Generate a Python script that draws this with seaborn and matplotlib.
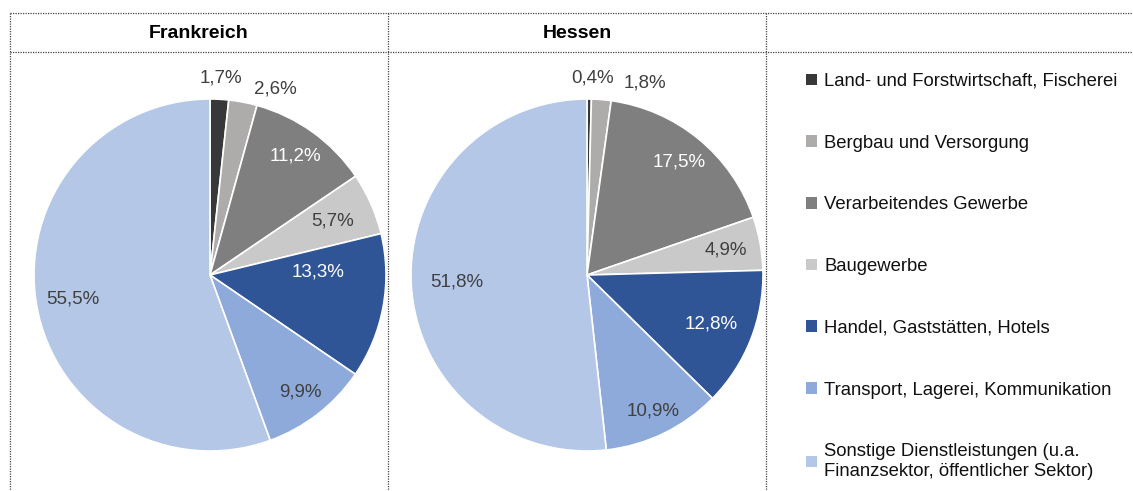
import matplotlib
matplotlib.use("Agg")
import matplotlib.pyplot as plt
import matplotlib.patches as mpatches
import matplotlib.lines as mlines
import numpy as np
import seaborn as sns

sns.set_theme(style="white")
plt.rcParams["font.family"] = ["Liberation Sans", "DejaVu Sans"]

# Daten
sectors = [
    "Land- und Forstwirtschaft, Fischerei",
    "Bergbau und Versorgung",
    "Verarbeitendes Gewerbe",
    "Baugewerbe",
    "Handel, Gaststätten, Hotels",
    "Transport, Lagerei, Kommunikation",
    "Sonstige Dienstleistungen (u.a.\nFinanzsektor, öffentlicher Sektor)",
]
frankreich = [1.7, 2.6, 11.2, 5.7, 13.3, 9.9, 55.5]
hessen = [0.4, 1.8, 17.5, 4.9, 12.8, 10.9, 51.8]
regions = ["Frankreich", "Hessen"]

colors = ["#383838", "#aeabab", "#7f7f7f", "#c9c9c9", "#2f5597", "#8eaadb", "#b4c7e7"]
label_colors = ["#404040", "#404040", "white", "#404040", "white", "#404040", "#404040"]

W, H = 1133, 491
fig = plt.figure(figsize=(W / 100, H / 100), dpi=100)

# Label-Platzierung: Abstand (Anteil am Radius) + Verschiebung in Pixeln
label_dist = {
    "Frankreich": [1.12, 1.125, 0.83, 0.76, 0.80, 0.84, 0.79],
    "Hessen": [1.12, 1.12, 0.83, 0.80, 0.76, 0.86, 0.74],
}
label_shift = {
    "Frankreich": [(0, 0), (28, 8), (0, 0), (0, 0), (-30, -28), (0, 0), (0, 0)],
    "Hessen": [(3, 0), (42, 4), (0, 0), (0, 0), (0, 0), (0, 0), (0, 0)],
}

centers = {"Frankreich": (210, 275), "Hessen": (587, 275)}
R = 176

for region, values in zip(regions, [frankreich, hessen]):
    cx, cy = centers[region]
    ax = fig.add_axes([(cx - R) / W, (H - cy - R) / H, 2 * R / W, 2 * R / H])
    wedges, _ = ax.pie(values, colors=colors, startangle=90, counterclock=False,
                       wedgeprops=dict(edgecolor="white", linewidth=1.2))
    ax.set_xlim(-1, 1)
    ax.set_ylim(-1, 1)
    ax.set_aspect("equal")
    ax.axis("off")
    for w, v, d, s, c in zip(wedges, values, label_dist[region], label_shift[region], label_colors):
        ang = np.deg2rad((w.theta1 + w.theta2) / 2)
        x = d * np.cos(ang) + s[0] / R
        y = d * np.sin(ang) - s[1] / R
        ax.text(x, y, f"{v:.1f}%".replace(".", ","),
                ha="center", va="center", fontsize=13.5, color=c, clip_on=False)

# Tabellenrahmen (gepunktet)
def hline(y, x0=10, x1=W):
    fig.add_artist(mlines.Line2D([x0 / W, x1 / W], [1 - y / H, 1 - y / H],
                                 color="#444444", linestyle=(0, (1, 1)), linewidth=0.9))

def vline(x, y0=13, y1=H):
    fig.add_artist(mlines.Line2D([x / W, x / W], [1 - y0 / H, 1 - y1 / H],
                                 color="#444444", linestyle=(0, (1, 1)), linewidth=0.9))

hline(13)
hline(52)
for x in [10, 388, 766]:
    vline(x)

# Überschriften
fig.text(199 / W, 1 - 33 / H, "Frankreich", ha="center", va="center",
         fontsize=14, fontweight="bold", color="black")
fig.text(577 / W, 1 - 33 / H, "Hessen", ha="center", va="center",
         fontsize=14, fontweight="bold", color="black")

# Legende
handles = [mpatches.Patch(facecolor=c, edgecolor="none") for c in colors]
fig.legend(handles, sectors, loc="upper left", bbox_to_anchor=(806 / W, 1 - 73 / H),
           frameon=False, fontsize=13.3, labelspacing=2.42, handlelength=0.6,
           handleheight=0.6, handletextpad=0.4, borderpad=0, borderaxespad=0,
           labelcolor="#111111")

plt.savefig("out.png", dpi=100)
plt.close()
